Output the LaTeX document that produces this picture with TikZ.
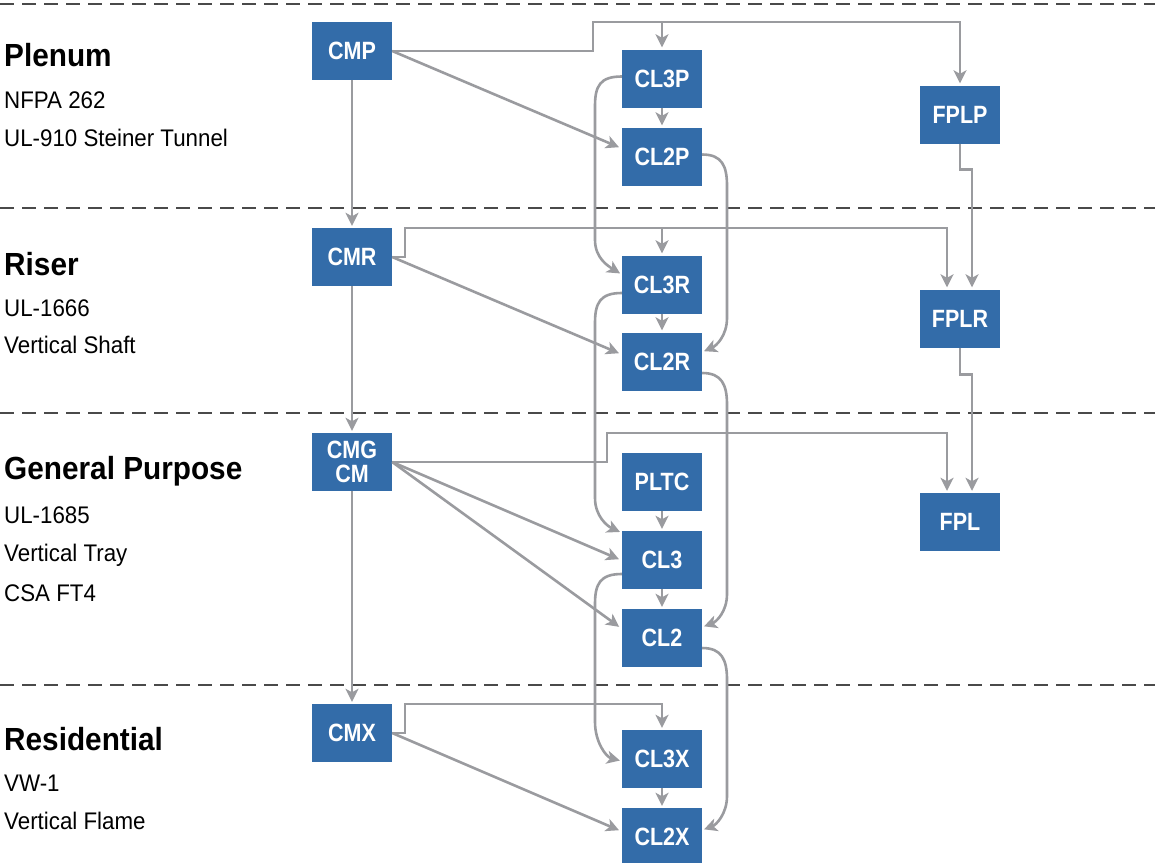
\documentclass[tikz,border=0pt]{standalone}
\usepackage{fontspec}
\setmainfont{Liberation Sans}
\newfontfamily\boxfont[FakeStretch=0.86]{Liberation Sans}
\newfontfamily\lblfont[FakeStretch=0.93]{Liberation Sans}
\usetikzlibrary{arrows.meta,calc}
\definecolor{boxblue}{HTML}{336CA9}
\definecolor{conngray}{HTML}{9A9B9F}
\definecolor{sepgray}{HTML}{4A4A4A}
\tikzset{
  cbox/.style={fill=boxblue, draw=none, minimum width=80pt, minimum height=58pt, inner sep=0pt, text=white, font=\boxfont\fontsize{25}{22}\selectfont\bfseries, align=center},
  conn/.style={draw=conngray, line width=2.6pt, -{Stealth[length=13pt,width=13pt,inset=3.5pt]}, shorten >=2pt},
  sepline/.style={draw=sepgray, line width=1.6pt, dash pattern=on 14pt off 8pt},
  head/.style={anchor=base west, inner sep=0pt, font=\lblfont\fontsize{32}{32}\selectfont\bfseries},
  sub/.style={anchor=base west, inner sep=0pt, font=\lblfont\fontsize{24}{24}\selectfont},
}
\begin{document}
\begin{tikzpicture}[x=1pt,y=-1pt]
\useasboundingbox (0,0) rectangle (1155,862);
\fill[white] (0,0) rectangle (1155,862);
% separators
\draw[sepline] (0,4) -- (1155,4);
\draw[sepline] (0,208) -- (1155,208);
\draw[sepline] (0,413) -- (1155,413);
\draw[sepline] (0,685) -- (1155,685);
% labels
\node[head] (hP) at (4,66.7) {Plenum};
\node[sub] (sP1) at (4,108) {NFPA 262};
\node[sub] (sP2) at (4,146.5) {UL-910 Steiner Tunnel};
\node[head] (hR) at (4,275) {Riser};
\node[sub] (sR1) at (4,316) {UL-1666};
\node[sub] (sR2) at (4,353) {Vertical Shaft};
\node[head] (hG) at (4,479) {General Purpose};
\node[sub] (sG1) at (4,523) {UL-1685};
\node[sub] (sG2) at (4,561.5) {Vertical Tray};
\node[sub] (sG3) at (4,601.5) {CSA FT4};
\node[head] (hX) at (4,750) {Residential};
\node[sub] (sX1) at (4,791) {VW-1};
\node[sub] (sX2) at (4,829.5) {Vertical Flame};
% boxes
\node[cbox] (CMP) at (352,51) {CMP};
\node[cbox] (CMR) at (352,257) {CMR};
\node[cbox, font=\boxfont\fontsize{25}{23.5}\selectfont\bfseries] (CMG) at (352,462) {CMG\\CM};
\node[cbox] (CMX) at (352,733) {CMX};
\node[cbox] (CL3P) at (662,78.5) {CL3P};
\node[cbox] (CL2P) at (662,156.5) {CL2P};
\node[cbox] (CL3R) at (662,284.5) {CL3R};
\node[cbox] (CL2R) at (662,361.5) {CL2R};
\node[cbox] (PLTC) at (662,482) {PLTC};
\node[cbox] (CL3) at (662,560) {CL3};
\node[cbox] (CL2) at (662,638) {CL2};
\node[cbox] (CL3X) at (662,759) {CL3X};
\node[cbox] (CL2X) at (662,837) {CL2X};
\node[cbox] (FPLP) at (960,114.5) {FPLP};
\node[cbox] (FPLR) at (960,318.5) {FPLR};
\node[cbox] (FPL) at (960,522) {FPL};
% bend coordinates
\coordinate (a1) at (593,22);
\coordinate (a2) at (662,22);
\coordinate (b1) at (405,228);
\coordinate (b2) at (662,228);
\coordinate (c1) at (607,433);
\coordinate (d1) at (405,704);
% elbow connectors
\draw[conn] (CMP.east) -| (a1) -| (FPLP.north);
\draw[conn] (a2) -- (CL3P.north);
\draw[conn] (CMR.east) -| (b1) -| ($(FPLR.north)+(-13,0)$);
\draw[conn] (b2) -- (CL3R.north);
\draw[conn] (CMG.east) -| (c1) -| ($(FPL.north)+(-13,0)$);
\draw[conn] (CMX.east) -| (d1) -| (CL3X.north);
\draw[conn] (FPLP.south) -- ++(0,26) -| ($(FPLR.north)+(12,0)$);
\draw[conn] (FPLR.south) -- ++(0,27) -| ($(FPL.north)+(12,0)$);
% verticals
\draw[conn] (CMP.south) -- (CMR.north);
\draw[conn] (CMR.south) -- (CMG.north);
\draw[conn] (CMG.south) -- (CMX.north);
\draw[conn] (CL3P.south) -- (CL2P.north);
\draw[conn] (CL3R.south) -- (CL2R.north);
\draw[conn] (PLTC.south) -- (CL3.north);
\draw[conn] (CL3.south) -- (CL2.north);
\draw[conn] (CL3X.south) -- (CL2X.north);
% diagonals
\draw[conn] (CMP.east) -- ($(CL2P.west)+(-1,-8.5)$);
\draw[conn] (CMR.east) -- ($(CL2R.west)+(-1,-7.5)$);
\draw[conn] (CMG.east) -- ($(CL3.west)+(-1,0)$);
\draw[conn] (CMG.east) -- ($(CL2.west)+(-1,-10)$);
\draw[conn] (CMX.east) -- ($(CL2X.west)+(-1,-6)$);
% left curves
\draw[conn] ($(CL3P.west)+(0,-2)$) .. controls (600,76.5) and (595,86) .. (595,106) -- (595,240) .. controls (595,258) and (608,266) .. ($(CL3R.west)+(0,-10)$);
\draw[conn] ($(CL3R.west)+(0,8.5)$) .. controls (600,293) and (595,303) .. (595,323) -- (595,498) .. controls (595,516) and (607,526) .. ($(CL3.north west)+(0,2)$);
\draw[conn] ($(CL3.west)+(0,14)$) .. controls (600,574) and (595,584) .. (595,604) -- (595,722) .. controls (595,742) and (606,757) .. ($(CL3X.west)+(0,2)$);
% right curves
\draw[conn] ($(CL2P.east)+(0,-2)$) .. controls (722,154.5) and (727,166) .. (727,186) -- (727,318) .. controls (727,336) and (716,346) .. ($(CL2R.east)+(0,-9.5)$);
\draw[conn] ($(CL2R.east)+(0,11.5)$) .. controls (722,373) and (727,385) .. (727,405) -- (727,594) .. controls (727,612) and (716,622) .. ($(CL2.east)+(0,-11)$);
\draw[conn] ($(CL2.east)+(0,10)$) .. controls (722,648) and (727,660) .. (727,680) -- (727,796) .. controls (727,814) and (716,825) .. ($(CL2X.east)+(0,-7)$);
\end{tikzpicture}
\end{document}
